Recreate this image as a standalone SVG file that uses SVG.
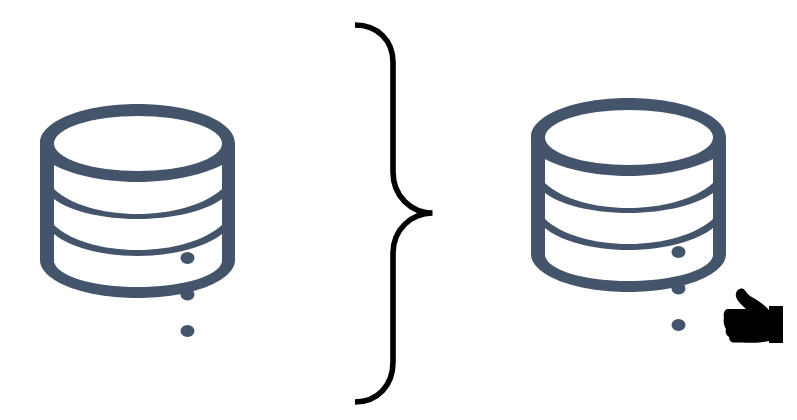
<svg xmlns="http://www.w3.org/2000/svg" width="797" height="420" viewBox="0 0 797 420">
  <style>
    .s{fill:#44546a;fill-rule:evenodd}
    .br{fill:none;stroke:#000;stroke-width:5.6}
  </style>
  <defs>
    <g id="db">
      <path class="s" d="M40 143C40 121 84 104 137.500 104S235 121 235 143V260C235 281 191 298 137.500 298S40 281 40 260Z
        M54 143.500A84 27.500 0 0 0 222 143.500A84 27.500 0 0 0 54 143.500Z
        M54 165C68 173 100 182 137.500 182S207 173 222 165V189C204 205 172 214 137.500 214S71 205 54 189Z
        M54 199C68 210 100 219 137.500 219S207 210 222 199V225C204 241 172 250 137.500 250S71 241 54 225Z
        M54 234C68 246 100 256 137.500 256S207 246 222 234V262C218 277 180 287 137.500 287S58 277 54 262Z"/>
      <ellipse class="s" cx="187.500" cy="258" rx="7" ry="6"/>
      <ellipse class="s" cx="187.500" cy="294.500" rx="7" ry="6"/>
      <ellipse class="s" cx="187.500" cy="331" rx="7" ry="6"/>
    </g>
  </defs>
  <rect width="797" height="420" fill="#fff"/>
  <g id="database-left"><use href="#db"/></g>
  <g id="database-right"><use href="#db" x="491" y="-6"/></g>
  <g id="brace"><path class="br" d="M355 25C378 25 393 41 393 62V172C393 196 411 213 432.500 213C411 213 393 230 393 253V362C393 385 378 402 355 402"/></g>
  <g id="thumb"><path fill="#000" d="M736 297C735 292 738 288.500 742 288.500C745 288.500 746 293 750 296C755 299 763 303 769 310V306H783V343H769V341L760 342.500C752 343 741 342.500 733 342.500C730 342 729 339 729 337C726 335 725 332 726 329C724 326 723 321 724 318C723 315 724 310 727 309H746C742 305 738 302 736 297Z"/></g>
</svg>
